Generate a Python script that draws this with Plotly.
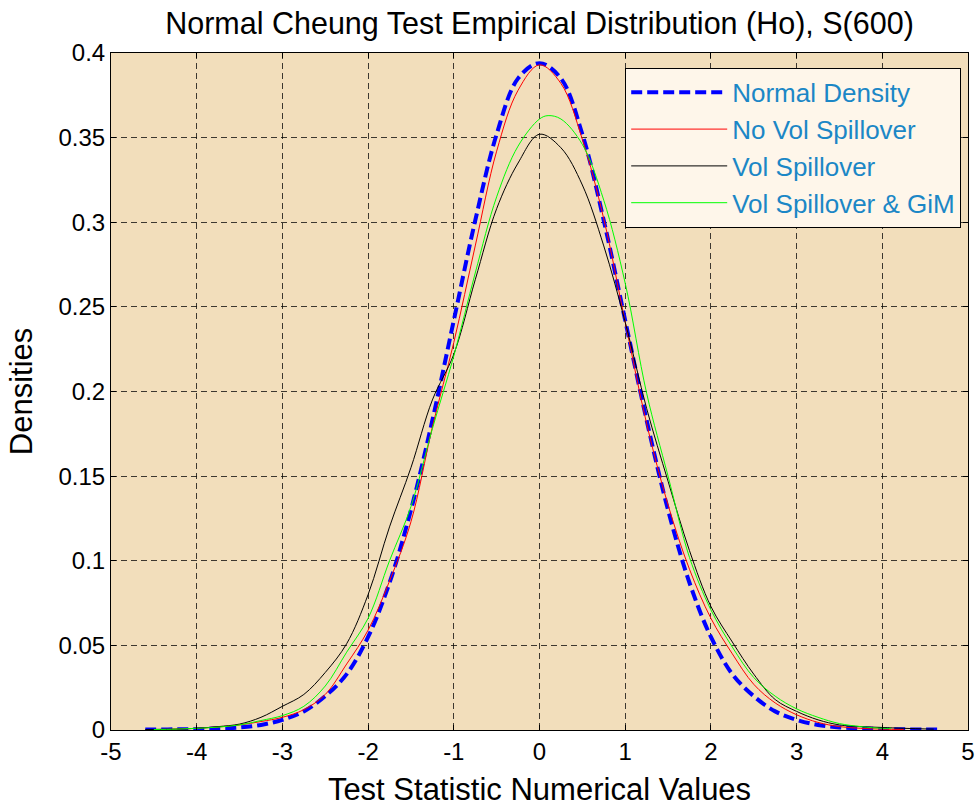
import plotly.graph_objects as go

# ---- data ----
x_normal = [-4.6, -4.5, -4.25, -4.0, -3.75, -3.5, -3.25, -3.0, -2.75, -2.5, -2.25, -2.0, -1.75, -1.5, -1.25,
            -1.0, -0.75, -0.5, -0.25, 0.0, 0.25, 0.5, 0.75, 1.0, 1.25, 1.5, 1.75, 2.0, 2.25, 2.5, 2.75,
            3.0, 3.25, 3.5, 3.75, 4.0, 4.25, 4.5, 4.65]
y_normal = [0.0003, 0.0003, 0.0004, 0.0005, 0.001, 0.0015, 0.003, 0.006, 0.011, 0.02, 0.033, 0.055, 0.087,
            0.13, 0.183, 0.242, 0.301, 0.352, 0.385, 0.394, 0.385, 0.352, 0.301, 0.242, 0.183, 0.13, 0.087,
            0.055, 0.033, 0.02, 0.011, 0.006, 0.003, 0.0015, 0.001, 0.0005, 0.0004, 0.0003, 0.0003]

x_novol = [-4.5, -4.25, -4.0, -3.75, -3.5, -3.25, -3.0, -2.75, -2.5, -2.25, -2.0, -1.75, -1.5, -1.25,
           -1.0, -0.75, -0.5, -0.25, 0.0, 0.25, 0.5, 0.75, 1.0, 1.25, 1.5, 1.75, 2.0, 2.25, 2.5, 2.75,
           3.0, 3.25, 3.5, 3.75, 4.0, 4.25]
y_novol = [0.0003, 0.0005, 0.001, 0.0018, 0.003, 0.005, 0.0075, 0.012, 0.021, 0.039, 0.059, 0.088, 0.123,
           0.179, 0.229, 0.286, 0.342, 0.378, 0.393, 0.382, 0.349, 0.302, 0.241, 0.181, 0.133, 0.095,
           0.066, 0.045, 0.027, 0.016, 0.009, 0.0045, 0.002, 0.001, 0.0005, 0.0003]

x_vol = [-4.6, -4.25, -4.0, -3.75, -3.5, -3.25, -3.0, -2.75, -2.5, -2.25, -2.0, -1.75, -1.5, -1.25,
         -1.0, -0.75, -0.5, -0.25, 0.0, 0.25, 0.5, 0.75, 1.0, 1.25, 1.5, 1.75, 2.0, 2.25, 2.5, 2.75,
         3.0, 3.25, 3.5, 3.75, 4.0, 4.25, 4.6]
y_vol = [0.0003, 0.0005, 0.001, 0.002, 0.0035, 0.0075, 0.014, 0.021, 0.034, 0.051, 0.08, 0.12, 0.155,
         0.195, 0.222, 0.266, 0.308, 0.335, 0.352, 0.344, 0.322, 0.286, 0.241, 0.19, 0.147, 0.106,
         0.073, 0.052, 0.033, 0.018, 0.011, 0.006, 0.003, 0.002, 0.0015, 0.001, 0.0005]

x_gim = [-4.5, -4.25, -4.0, -3.75, -3.5, -3.25, -3.0, -2.75, -2.5, -2.25, -2.0, -1.75, -1.5, -1.25,
         -1.0, -0.75, -0.5, -0.25, 0.0, 0.1, 0.25, 0.5, 0.75, 1.0, 1.25, 1.5, 1.75, 2.0, 2.25, 2.5, 2.75,
         3.0, 3.25, 3.5, 3.75, 4.0, 4.1]
y_gim = [0.0003, 0.0005, 0.001, 0.0017, 0.003, 0.0056, 0.0085, 0.014, 0.026, 0.046, 0.066, 0.1, 0.132,
         0.178, 0.221, 0.27, 0.315, 0.345, 0.361, 0.363, 0.361, 0.346, 0.313, 0.264, 0.199, 0.15, 0.102,
         0.071, 0.049, 0.031, 0.02, 0.0125, 0.0075, 0.0038, 0.002, 0.001, 0.001]

series_names = ["Normal Density", "No Vol Spillover", "Vol Spillover", "Vol Spillover & GiM"]

x_tickvals = [-5, -4, -3, -2, -1, 0, 1, 2, 3, 4, 5]
x_ticktext = ["-5", "-4", "-3", "-2", "-1", "0", "1", "2", "3", "4", "5"]
y_tickvals = [0, 0.05, 0.1, 0.15, 0.2, 0.25, 0.3, 0.35, 0.4]
y_ticktext = ["0", "0.05", "0.1", "0.15", "0.2", "0.25", "0.3", "0.35", "0.4"]

FONT = "Liberation Sans, Arial, sans-serif"

fig = go.Figure()
fig.add_trace(go.Scatter(x=x_normal, y=y_normal, name=series_names[0], mode="lines",
                         line=dict(color="#0000FF", width=4, dash="11px,5px", shape="spline")))
fig.add_trace(go.Scatter(x=x_novol, y=y_novol, name=series_names[1], mode="lines",
                         line=dict(color="#FF0000", width=1, shape="spline")))
fig.add_trace(go.Scatter(x=x_vol, y=y_vol, name=series_names[2], mode="lines",
                         line=dict(color="#000000", width=1, shape="spline")))
fig.add_trace(go.Scatter(x=x_gim, y=y_gim, name=series_names[3], mode="lines",
                         line=dict(color="#00FF00", width=1, shape="spline")))

axis_common = dict(
    showline=True, linecolor="black", linewidth=1, mirror="ticks",
    ticks="inside", ticklen=5, tickcolor="black", automargin=False,
    showgrid=True, gridcolor="rgba(0,0,0,0.75)", griddash="6px,4px", gridwidth=1,
    zeroline=False, tickfont=dict(family=FONT, size=24, color="black"),
)

fig.update_layout(
    width=980, height=807,
    margin=dict(l=111, r=12, t=53, b=77),
    paper_bgcolor="white",
    plot_bgcolor="#F2DEBB",
    font=dict(family=FONT, color="black"),
    title=dict(text="Normal Cheung Test Empirical Distribution (Ho), S(600)",
               x=0.5, xref="paper", xanchor="center", y=0.971, yanchor="middle",
               font=dict(family=FONT, size=30.5, color="black")),
    xaxis=dict(range=[-5, 5], tickvals=x_tickvals, ticktext=x_ticktext,
               title=dict(text="Test Statistic Numerical Values", standoff=14,
                          font=dict(family=FONT, size=31, color="black")),
               **axis_common),
    yaxis=dict(range=[0, 0.4], tickvals=y_tickvals, ticktext=y_ticktext,
               title=dict(text="Densities", standoff=16,
                          font=dict(family=FONT, size=31, color="black")),
               **axis_common),
    legend=dict(x=0.6, y=0.978, xanchor="left", yanchor="top",
                bgcolor="#FEF6EA", bordercolor="black", borderwidth=1,
                font=dict(family=FONT, size=26, color="#1B87C6"),
                itemwidth=96, tracegroupgap=0),
    showlegend=True,
)

fig.write_html("out.html")
